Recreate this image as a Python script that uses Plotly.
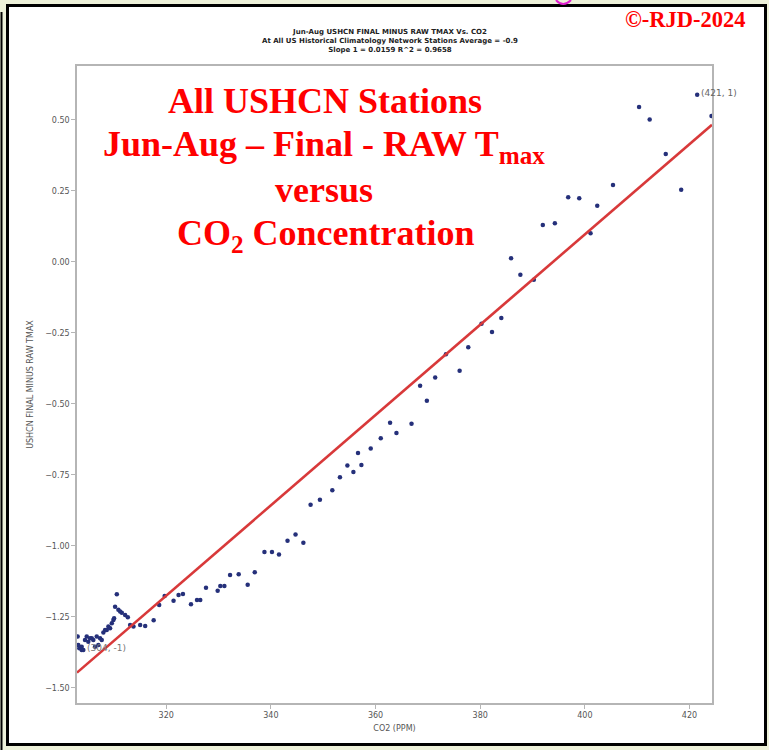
import plotly.graph_objects as go

# ---- data ----
co2_ppm = [303.08, 303.20, 303.39, 303.85, 303.85, 304.16, 304.48, 304.81, 305.11, 305.44,
           305.77, 306.07, 306.40, 306.72, 307.03, 307.36, 307.68, 307.99, 308.31, 308.64,
           308.95, 309.27, 309.60, 309.90, 310.04, 310.23, 310.56, 310.86, 311.19, 311.51,
           312.15, 312.66, 313.10, 313.74, 315.02, 315.98, 317.60, 318.66, 319.70, 321.40,
           322.36, 323.20, 324.73, 325.88, 326.51, 327.60, 329.83, 330.34, 331.11, 332.20,
           333.85, 335.57, 336.92, 338.77, 340.21, 341.55, 343.18, 344.71, 346.21, 347.59,
           349.37, 351.74, 353.20, 354.62, 355.77, 356.65, 357.30, 359.08, 361.00, 362.78,
           364.00, 366.88, 368.52, 369.81, 371.40, 373.45, 376.07, 377.72, 380.25, 382.26,
           384.04, 385.90, 387.68, 390.25, 391.97, 394.27, 396.82, 398.93, 401.09, 402.37,
           405.38, 410.36, 412.39, 415.46, 418.41, 421.47, 424.20]
final_minus_raw = [-1.319, -1.349, -1.360, -1.355, -1.366, -1.366, -1.331, -1.319, -1.337, -1.325,
                   -1.325, -1.331, -1.355, -1.319, -1.349, -1.325, -1.331, -1.305, -1.296, -1.296,
                   -1.284, -1.290, -1.272, -1.261, -1.255, -1.214, -1.170, -1.225, -1.231, -1.235,
                   -1.243, -1.251, -1.278, -1.284, -1.278, -1.282, -1.262, -1.208, -1.176, -1.193,
                   -1.173, -1.169, -1.205, -1.190, -1.190, -1.147, -1.158, -1.141, -1.141, -1.102,
                   -1.100, -1.137, -1.093, -1.021, -1.021, -1.030, -0.982, -0.960, -0.989, -0.855,
                   -0.837, -0.804, -0.758, -0.717, -0.740, -0.673, -0.715, -0.657, -0.621, -0.566,
                   -0.602, -0.570, -0.436, -0.489, -0.407, -0.325, -0.383, -0.300, -0.218, -0.247,
                   -0.197, 0.013, -0.045, -0.063, 0.130, 0.136, 0.228, 0.224, 0.101, 0.198,
                   0.271, 0.546, 0.502, 0.380, 0.254, 0.589, 0.514]

fit_slope = 0.0159
fit_intercept = -6.263

x_ticks = [320, 340, 360, 380, 400, 420]
y_ticks = [-1.50, -1.25, -1.00, -0.75, -0.50, -0.25, 0.00, 0.25, 0.50]

x_range = [302.95, 424.3]
y_range = [-1.553, 0.690]

label_hi = "(421, 1)"
label_lo = "(304, -1)"

# ---- figure ----
fit_x = [x_range[0], x_range[1]]
fit_y = [fit_slope * v + fit_intercept for v in fit_x]

fig = go.Figure()
fig.add_trace(go.Scatter(x=co2_ppm, y=final_minus_raw, mode="markers",
                         marker=dict(size=4.5, color="#25307a"), showlegend=False))
fig.add_trace(go.Scatter(x=fit_x, y=fit_y, mode="lines",
                         line=dict(color="#d8393a", width=2.6), showlegend=False))

W, H = 769, 750
L, R, T, B = 77, 712, 66, 703


def px(x):
    return (x - L) / (R - L)


def py(y):
    return (B - y) / (B - T)


shapes = [
    # outer page frame
    dict(type="rect", xref="paper", yref="paper", layer="below",
         x0=px(7.5), x1=px(765.5), y0=py(744.5), y1=py(5.5),
         line=dict(color="black", width=3), fillcolor="white"),
    dict(type="line", xref="paper", yref="paper",
         x0=px(1.5), x1=px(1.5), y0=py(750), y1=py(12),
         line=dict(color="black", width=2)),
    # cut-off magenta glyph from the slide heading above
    dict(type="path", xref="paper", yref="paper",
         path=f"M {px(556)},{py(0)} Q {px(563)},{py(8)} {px(571)},{py(0)}",
         line=dict(color="#e020d0", width=2)),
]

red_font = dict(family="Liberation Serif, Times New Roman, serif", size=36, color="#ff0000")
annotations = [
    dict(text="<b>All USHCN Stations</b>", x=px(325), y=py(101), xref="paper", yref="paper",
         showarrow=False, font=red_font, xanchor="center", yanchor="middle"),
    dict(text="<b>Jun-Aug – Final - RAW T<sub>max</sub></b>", x=px(324), y=py(147), xref="paper",
         yref="paper", showarrow=False, font=red_font, xanchor="center", yanchor="middle"),
    dict(text="<b>versus</b>", x=px(324), y=py(190), xref="paper", yref="paper",
         showarrow=False, font=red_font, xanchor="center", yanchor="middle"),
    dict(text="<b>CO<sub>2</sub> Concentration</b>", x=px(326), y=py(236), xref="paper",
         yref="paper", showarrow=False, font=red_font, xanchor="center", yanchor="middle"),
    dict(text="<b>©-RJD-2024</b>", x=px(685), y=py(20), xref="paper", yref="paper",
         showarrow=False, xanchor="center", yanchor="middle",
         font=dict(family="Liberation Serif, Times New Roman, serif", size=22.5, color="#ff0000")),
    dict(text="<b>Jun-Aug USHCN FINAL MINUS RAW TMAX Vs. CO2<br>"
              "At All US Historical Climatology Network Stations Average = -0.9<br>"
              "Slope 1 = 0.0159 R^2 = 0.9658</b>",
         x=px(390), y=py(41.5), xref="paper", yref="paper", showarrow=False,
         xanchor="center", yanchor="middle",
         font=dict(family="DejaVu Sans, sans-serif", size=7, color="#222222")),
    dict(text=label_hi, x=co2_ppm[-2], y=final_minus_raw[-2], showarrow=False,
         xanchor="left", yanchor="middle", xshift=2, yshift=2,
         font=dict(family="DejaVu Sans, sans-serif", size=9, color="#666666")),
    dict(text=label_lo, x=co2_ppm[5], y=final_minus_raw[5], showarrow=False,
         xanchor="left", yanchor="middle", xshift=2, yshift=2,
         font=dict(family="DejaVu Sans, sans-serif", size=9, color="#777777")),
]

axis_font = dict(family="DejaVu Sans, sans-serif", size=8, color="#555555")
fig.update_layout(
    width=W, height=H,
    margin=dict(l=L, r=W - R, t=T, b=H - B, pad=0),
    paper_bgcolor="#edf1d9",
    plot_bgcolor="white",
    shapes=shapes,
    annotations=annotations,
    showlegend=False,
    xaxis=dict(range=x_range, tickvals=x_ticks, ticktext=[str(v) for v in x_ticks],
               showgrid=False, zeroline=False, showline=True, mirror=True,
               linecolor="#b5b5b5", linewidth=1.5, ticks="outside", ticklen=4,
               tickcolor="#b5b5b5", tickfont=axis_font,
               title=dict(text="CO2 (PPM)", font=axis_font, standoff=6)),
    yaxis=dict(range=y_range, tickvals=y_ticks, tickformat=".2f",
               showgrid=False, zeroline=False, showline=True, mirror=True,
               linecolor="#b5b5b5", linewidth=1.5, ticks="outside", ticklen=4,
               tickcolor="#b5b5b5", tickfont=axis_font,
               title=dict(text="USHCN FINAL MINUS RAW TMAX", font=axis_font, standoff=10)),
)

fig.write_html("out.html", config={"displayModeBar": False},
               post_script="document.body.style.margin='0px';document.body.style.overflow='hidden';")
